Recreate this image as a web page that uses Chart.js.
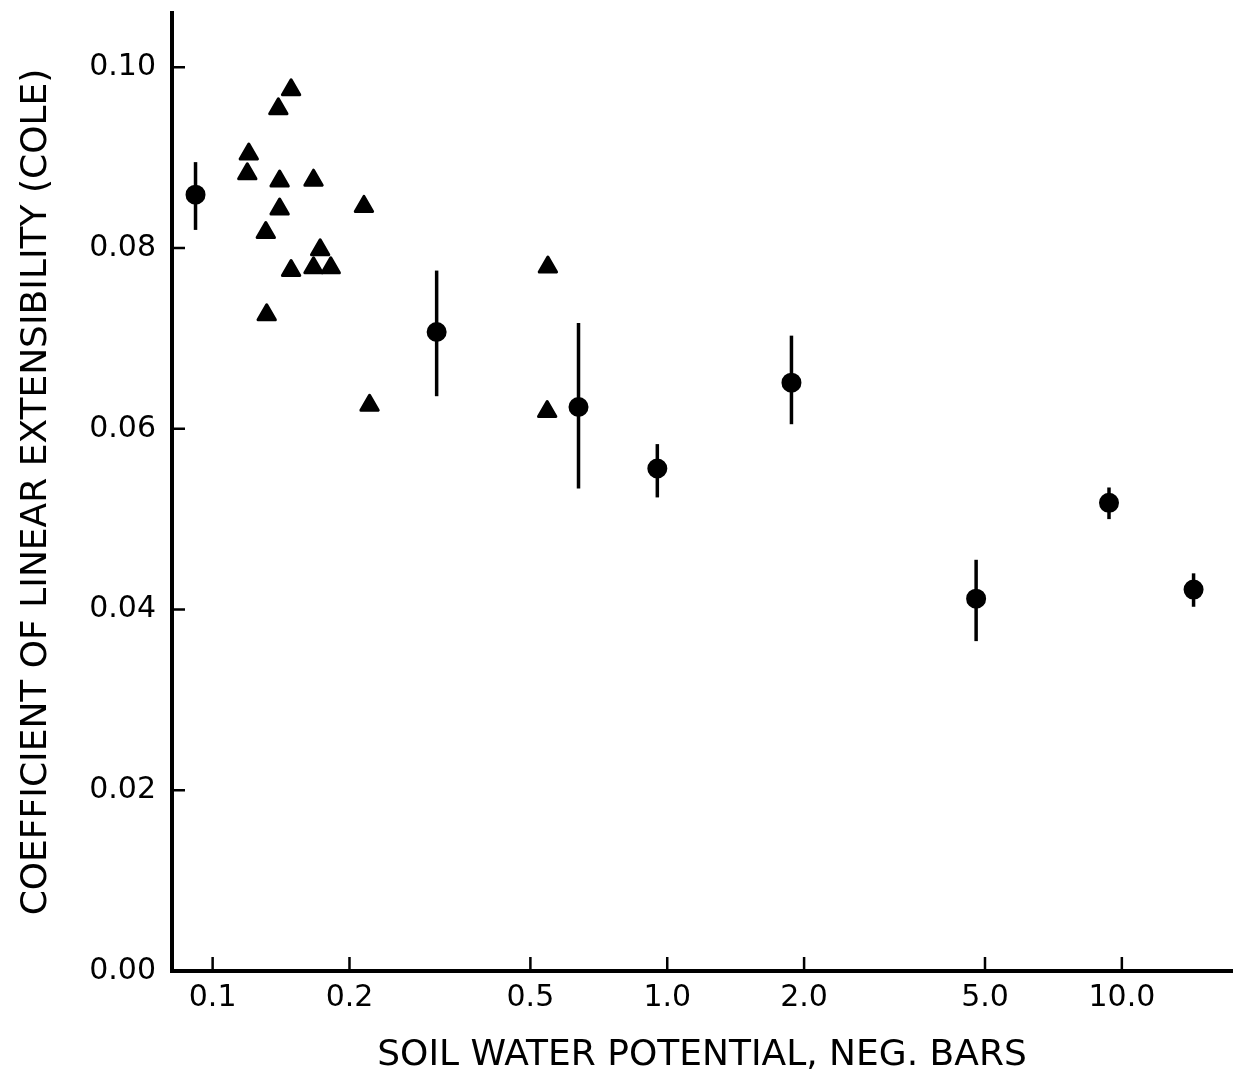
<!DOCTYPE html>
<html>
<head>
<meta charset="utf-8">
<title>COLE vs soil water potential</title>
<script src="https://cdn.jsdelivr.net/npm/chart.js@4.4.1/dist/chart.umd.min.js"></script>
<style>
    html, body { margin: 0; padding: 0; background: #fff; }
    canvas { display: block; }
</style>
</head>
<body>
<canvas id="myChart" width="1245" height="1083"></canvas>
<script>
// means per suction step, with the range of the replicates
const meanPotential = [0.0917, 0.311, 0.638, 0.951, 1.876, 4.78, 9.37, 14.38]
const meanCole = [0.0859, 0.0707, 0.0624, 0.0556, 0.0651, 0.0412, 0.0518, 0.0422]
const coleHigh = [0.0895, 0.0775, 0.0717, 0.0583, 0.0703, 0.0455, 0.0535, 0.0440]
const coleLow = [0.0820, 0.0636, 0.0534, 0.0524, 0.0605, 0.0365, 0.0500, 0.0403]

// single clods
const clodPotential = [0.1488, 0.1395, 0.1201, 0.1192, 0.1404, 0.1667, 0.2152, 0.1404, 0.1309,
    0.1724, 0.1488, 0.1667, 0.1819, 0.1315, 0.2214, 0.5463, 0.5444]
const clodCole = [0.0975, 0.0954, 0.0904, 0.0882, 0.0874, 0.0875, 0.0846, 0.0843, 0.0817,
    0.0798, 0.0775, 0.0778, 0.0778, 0.0726, 0.0626, 0.0779, 0.0619]

const xTicks = [0.1, 0.2, 0.5, 1, 2, 5, 10]
const xTickLabels = ['0.1', '0.2', '0.5', '1.0', '2.0', '5.0', '10.0']
const yTicks = [0, 0.02, 0.04, 0.06, 0.08, 0.10]
const yTickLabels = ['0.00', '0.02', '0.04', '0.06', '0.08', '0.10']

const errorBars = {
    id: 'errorBars',
    beforeDatasetsDraw: (chart) => {
        const { ctx, scales: { x, y } } = chart
        ctx.save()
        ctx.strokeStyle = '#000'
        ctx.lineWidth = 3.5
        meanPotential.forEach((p, i) => {
            const px = x.getPixelForValue(p)
            ctx.beginPath()
            ctx.moveTo(px, y.getPixelForValue(coleHigh[i]))
            ctx.lineTo(px, y.getPixelForValue(coleLow[i]))
            ctx.stroke()
        })
        ctx.restore()
        // softer corners on the triangles
        ctx.lineJoin = 'round'
    }
}

// tick marks point into the plot
const inwardTicks = {
    id: 'inwardTicks',
    afterDraw: (chart) => {
        const { ctx, chartArea, scales: { x, y } } = chart
        ctx.save()
        ctx.strokeStyle = '#000'
        ctx.lineWidth = 2.5
        ctx.beginPath()
        x.ticks.forEach(t => {
            const px = x.getPixelForValue(t.value)
            ctx.moveTo(px, chartArea.bottom)
            ctx.lineTo(px, chartArea.bottom - 14)
        })
        y.ticks.forEach(t => {
            const py = y.getPixelForValue(t.value)
            ctx.moveTo(chartArea.left, py)
            ctx.lineTo(chartArea.left + 13, py)
        })
        ctx.stroke()
        ctx.restore()
    }
}

const noPadding = scale => {
    scale.paddingTop = 0
    scale.paddingBottom = 0
    scale.paddingLeft = 0
    scale.paddingRight = 0
}

const tickFont = { family: 'DejaVu Sans', size: 30 }
const titleFont = { family: 'DejaVu Sans', size: 36 }

const data = {
    datasets: [{
        label: 'means',
        data: meanPotential.map((p, i) => ({ x: p, y: meanCole[i] })),
        pointStyle: 'circle',
        pointRadius: 9,
        borderWidth: 2,
        backgroundColor: '#000',
        borderColor: '#000'
    }, {
        label: 'clods',
        data: clodPotential.map((p, i) => ({ x: p, y: clodCole[i] })),
        pointStyle: 'triangle',
        pointRadius: 10,
        borderWidth: 3,
        backgroundColor: '#000',
        borderColor: '#000'
    }]
}

const config = {
    type: 'scatter',
    data: data,
    plugins: [errorBars, inwardTicks],
    options: {
        responsive: false,
        animation: false,
        layout: { padding: { top: 10, right: 2, left: 0, bottom: 0 } },
        plugins: {
            legend: { display: false },
            tooltip: { enabled: false }
        },
        scales: {
            x: {
                type: 'logarithmic',
                bounds: 'data',
                min: 0.0814,
                max: 17.47,
                afterBuildTicks: scale => { scale.ticks = xTicks.map(v => ({ value: v })) },
                afterFit: scale => {
                    scale.height = 112
                    noPadding(scale)
                },
                border: { display: true, color: '#000', width: 4 },
                grid: { display: false, drawTicks: false },
                ticks: {
                    autoSkip: false,
                    maxRotation: 0,
                    padding: 9,
                    color: '#000',
                    font: tickFont,
                    callback: (value, i) => xTickLabels[i]
                },
                title: {
                    display: true,
                    text: 'SOIL WATER POTENTIAL, NEG. BARS',
                    color: '#000',
                    font: titleFont,
                    padding: { top: 0, bottom: 6 }
                }
            },
            y: {
                type: 'linear',
                bounds: 'data',
                min: 0,
                max: 0.106,
                afterBuildTicks: scale => { scale.ticks = yTicks.map(v => ({ value: v })) },
                afterFit: scale => {
                    scale.width = 172
                    noPadding(scale)
                },
                border: { display: true, color: '#000', width: 4 },
                grid: { display: false, drawTicks: false },
                ticks: {
                    padding: 16,
                    color: '#000',
                    font: tickFont,
                    callback: (value, i) => yTickLabels[i]
                },
                title: {
                    display: true,
                    text: 'COEFFICIENT OF LINEAR EXTENSIBILITY (COLE)',
                    color: '#000',
                    font: titleFont,
                    padding: { top: 15, bottom: 0 }
                }
            }
        }
    }
}

const chart = new Chart(document.getElementById('myChart'), config)
</script>
</body>
</html>
